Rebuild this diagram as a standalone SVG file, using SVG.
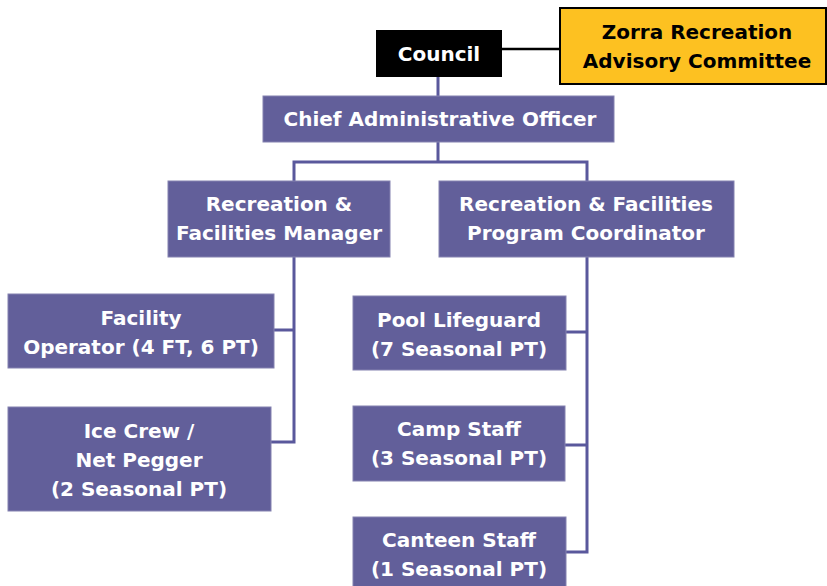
<svg xmlns="http://www.w3.org/2000/svg" width="827" height="586" viewBox="0 0 827 586">
<style>
.box{fill:#625F9A;stroke:#8482B0;stroke-width:1}
.t{font-family:"DejaVu Sans","Liberation Sans",sans-serif;font-weight:bold;font-size:20px;fill:#ffffff;text-anchor:middle}
.tk{fill:#000000}
.ln{fill:none;stroke:#5A589C;stroke-width:3}
</style>
<rect width="827" height="586" fill="#ffffff"/>
<g id="connectors">
<line x1="502" y1="49" x2="560" y2="49" stroke="#000" stroke-width="2.5"/>
<path class="ln" d="M438 77V96M438 142V162M294 181V162H587V181"/>
<path class="ln" d="M294 257V442H271M274 330H294"/>
<path class="ln" d="M587 257V552H566M566 332H587M565 445H587"/>
</g>
<g id="council">
<rect x="376" y="30" width="126" height="47" fill="#000"/>
<text class="t" x="439" y="61">Council</text>
</g>
<g id="zorra">
<rect x="560" y="8" width="266" height="76" fill="#FDC121" stroke="#000" stroke-width="2"/>
<text class="t tk" x="697" y="39">Zorra Recreation</text>
<text class="t tk" x="697" y="68">Advisory Committee</text>
</g>
<g id="cao">
<rect class="box" x="263" y="96" width="351" height="46"/>
<text class="t" x="440" y="126">Chief Administrative Officer</text>
</g>
<g id="manager">
<rect class="box" x="168" y="181" width="222" height="76"/>
<text class="t" x="279" y="211">Recreation &amp;</text>
<text class="t" x="279" y="240">Facilities Manager</text>
</g>
<g id="coordinator">
<rect class="box" x="439" y="181" width="295" height="76"/>
<text class="t" x="586" y="211">Recreation &amp; Facilities</text>
<text class="t" x="586" y="240">Program Coordinator</text>
</g>
<g id="facility">
<rect class="box" x="8" y="294" width="266" height="74"/>
<text class="t" x="141" y="325">Facility</text>
<text class="t" x="141" y="354">Operator (4 FT, 6 PT)</text>
</g>
<g id="icecrew">
<rect class="box" x="8" y="407" width="263" height="104"/>
<text class="t" x="139" y="438">Ice Crew /</text>
<text class="t" x="139" y="467">Net Pegger</text>
<text class="t" x="139" y="496">(2 Seasonal PT)</text>
</g>
<g id="pool">
<rect class="box" x="353" y="296" width="213" height="74"/>
<text class="t" x="459" y="327">Pool Lifeguard</text>
<text class="t" x="459" y="356">(7 Seasonal PT)</text>
</g>
<g id="camp">
<rect class="box" x="353" y="406" width="212" height="75"/>
<text class="t" x="459" y="436">Camp Staff</text>
<text class="t" x="459" y="465">(3 Seasonal PT)</text>
</g>
<g id="canteen">
<rect class="box" x="353" y="517" width="213" height="75"/>
<text class="t" x="459" y="547">Canteen Staff</text>
<text class="t" x="459" y="576">(1 Seasonal PT)</text>
</g>
</svg>
